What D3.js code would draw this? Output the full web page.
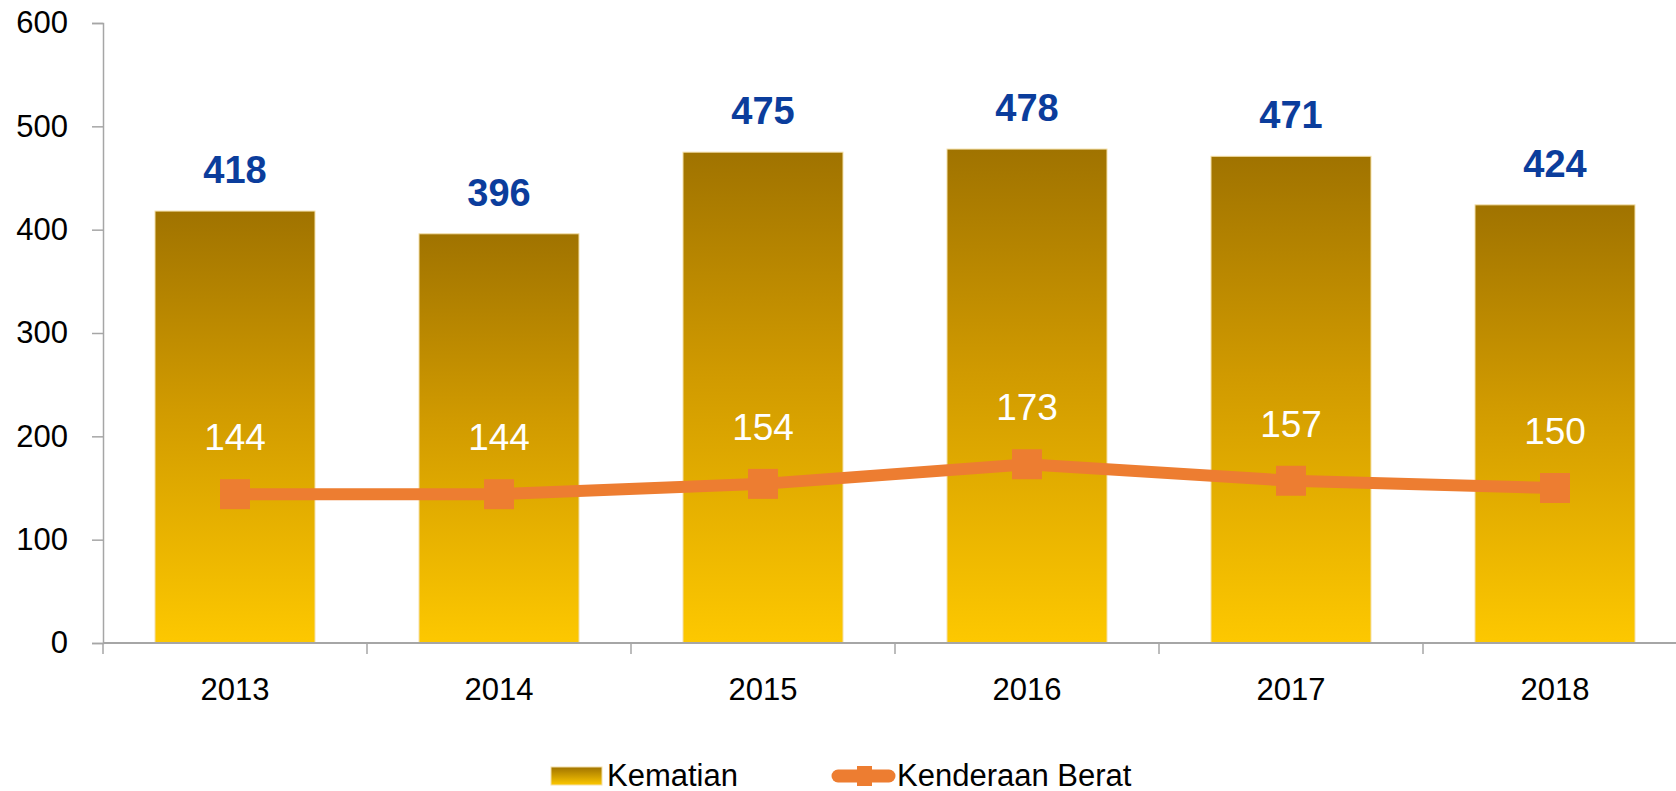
<!DOCTYPE html>
<html>
<head>
<meta charset="utf-8">
<script src="https://cdn.jsdelivr.net/npm/d3@7"></script>
<style>
  body { margin: 0; background: #fff; }
  svg { display: block; font-family: "Liberation Sans", Arial, sans-serif; }
</style>
</head>
<body>
<svg width="1676" height="791"></svg>
<script>
// data
var years = ["2013", "2014", "2015", "2016", "2017", "2018"];
var kematian = [418, 396, 475, 478, 471, 424];
var kenderaan = [144, 144, 154, 173, 157, 150];
var yTicks = [0, 100, 200, 300, 400, 500, 600];
var seriesNames = ["Kematian", "Kenderaan Berat"];

var svg = d3.select("svg");
var plotLeft = 103, plotRight = 1687, plotTop = 23, plotBottom = 643;

var x = d3.scaleBand().domain(years).range([plotLeft, plotRight]).paddingInner(0.394).paddingOuter(0.197);
var xb = d3.scaleBand().domain(years).range([plotLeft, plotRight]);
var y = d3.scaleLinear().domain([0, 600]).range([plotBottom, plotTop]);

// gradient for bars
var defs = svg.append("defs");
var grad = defs.append("linearGradient").attr("id", "barGrad")
    .attr("x1", 0).attr("y1", 0).attr("x2", 0).attr("y2", 1);
grad.append("stop").attr("offset", "0%").attr("stop-color", "#a07300");
grad.append("stop").attr("offset", "45%").attr("stop-color", "#d09a00");
grad.append("stop").attr("offset", "100%").attr("stop-color", "#fdc800");

var lgrad = defs.append("linearGradient").attr("id", "legGrad")
    .attr("x1", 0).attr("y1", 0).attr("x2", 0).attr("y2", 1);
lgrad.append("stop").attr("offset", "0%").attr("stop-color", "#a07300");
lgrad.append("stop").attr("offset", "100%").attr("stop-color", "#fdc800");

// bars
svg.append("g").selectAll("rect")
  .data(kematian)
  .enter().append("rect")
    .attr("x", function(d, i) { return x(years[i]); })
    .attr("y", function(d) { return y(d); })
    .attr("width", x.bandwidth())
    .attr("height", function(d) { return plotBottom - y(d); })
    .attr("fill", "url(#barGrad)")
    .attr("stroke", "#f3dfa8")
    .attr("stroke-width", 1);

// y axis
var yAxis = svg.append("g")
    .attr("transform", "translate(" + plotLeft + ",0)")
    .call(d3.axisLeft(y).tickValues(yTicks).tickSize(11).tickPadding(24));
yAxis.select(".domain").attr("stroke", "#a6a6a6").attr("stroke-width", 1.5);
yAxis.selectAll(".tick line").attr("stroke", "#a6a6a6").attr("stroke-width", 1.5);
yAxis.selectAll("text").attr("font-size", "31px").attr("fill", "#000")
    .attr("font-family", "Liberation Sans, Arial, sans-serif");

// x axis with boundary ticks
var xg = svg.append("g").attr("transform", "translate(0," + plotBottom + ")");
xg.append("line").attr("x1", plotLeft).attr("x2", plotRight)
    .attr("stroke", "#a6a6a6").attr("stroke-width", 2);
xg.selectAll(".bt")
  .data(years.concat(["end"]))
  .enter().append("line")
    .attr("x1", function(d, i) { return plotLeft + i * xb.step(); })
    .attr("x2", function(d, i) { return plotLeft + i * xb.step(); })
    .attr("y1", 0).attr("y2", 11)
    .attr("stroke", "#a6a6a6").attr("stroke-width", 1.5);
xg.selectAll("text")
  .data(years)
  .enter().append("text")
    .attr("x", function(d) { return xb(d) + xb.bandwidth() / 2; })
    .attr("y", 57)
    .attr("text-anchor", "middle")
    .attr("font-size", "31px")
    .text(function(d) { return d; });

// bar labels
svg.append("g").selectAll("text")
  .data(kematian)
  .enter().append("text")
    .attr("x", function(d, i) { return x(years[i]) + x.bandwidth() / 2; })
    .attr("y", function(d) { return y(d) - 28; })
    .attr("text-anchor", "middle")
    .attr("font-size", "38px")
    .attr("font-weight", "bold")
    .attr("fill", "#0b3d9c")
    .text(function(d) { return d; });

// line
var line = d3.line()
    .x(function(d, i) { return xb(years[i]) + xb.bandwidth() / 2; })
    .y(function(d) { return y(d); });

svg.append("path")
    .datum(kenderaan)
    .attr("d", line)
    .attr("fill", "none")
    .attr("stroke", "#ed7d31")
    .attr("stroke-width", 12);

svg.append("g").selectAll("rect")
  .data(kenderaan)
  .enter().append("rect")
    .attr("x", function(d, i) { return xb(years[i]) + xb.bandwidth() / 2 - 15; })
    .attr("y", function(d) { return y(d) - 15; })
    .attr("width", 30).attr("height", 30)
    .attr("fill", "#ed7d31");

svg.append("g").selectAll("text")
  .data(kenderaan)
  .enter().append("text")
    .attr("x", function(d, i) { return xb(years[i]) + xb.bandwidth() / 2; })
    .attr("y", function(d) { return y(d) - 44; })
    .attr("text-anchor", "middle")
    .attr("font-size", "37px")
    .attr("fill", "#fff")
    .text(function(d) { return d; });

// legend
var leg = svg.append("g");
leg.append("rect").attr("x", 551).attr("y", 767).attr("width", 51).attr("height", 18)
    .attr("fill", "url(#legGrad)").attr("stroke", "#f3dfa8");
leg.append("text").attr("x", 607).attr("y", 786).attr("font-size", "31px")
    .text(seriesNames[0]);
leg.append("line").attr("x1", 838).attr("x2", 889).attr("y1", 776).attr("y2", 776)
    .attr("stroke", "#ed7d31").attr("stroke-width", 13).attr("stroke-linecap", "round");
leg.append("rect").attr("x", 857).attr("y", 766).attr("width", 15).attr("height", 20)
    .attr("fill", "#ed7d31");
leg.append("text").attr("x", 897).attr("y", 786).attr("font-size", "31px")
    .text(seriesNames[1]);
</script>
</body>
</html>
